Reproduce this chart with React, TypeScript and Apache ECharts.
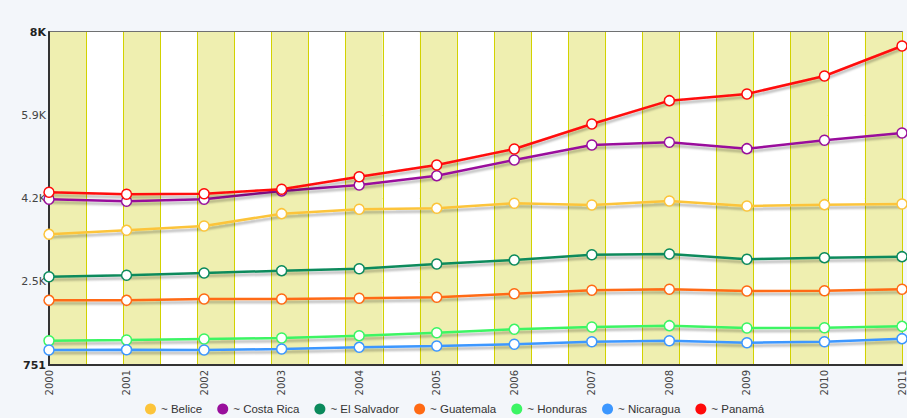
import React, { useEffect, useRef } from "react";
import * as echarts from "echarts";

const years = ["2000", "2001", "2002", "2003", "2004", "2005", "2006", "2007", "2008", "2009", "2010", "2011"];
const yTickLabels = ["751", "2.5K", "4.2K", "5.9K", "8K"];
const seriesNames = ["~ Belice", "~ Costa Rica", "~ El Salvador", "~ Guatemala", "~ Honduras", "~ Nicaragua", "~ Panamá"];
const seriesColors = ["#fcc43a", "#990f9c", "#0b8a5c", "#ff6a14", "#3cf564", "#3c97ff", "#ff0a0a"];

const belice = [3596, 3683, 3777, 4045, 4141, 4162, 4271, 4234, 4321, 4212, 4241, 4256];
const costaRica = [4358, 4315, 4358, 4540, 4670, 4872, 5214, 5540, 5599, 5460, 5643, 5802];
const elSalvador = [2673, 2704, 2754, 2804, 2847, 2950, 3037, 3152, 3167, 3052, 3087, 3109];
const guatemala = [2159, 2159, 2188, 2188, 2203, 2225, 2303, 2377, 2399, 2362, 2368, 2399];
const honduras = [1280, 1295, 1317, 1339, 1389, 1454, 1528, 1578, 1607, 1556, 1563, 1593];
const nicaragua = [1078, 1084, 1078, 1099, 1136, 1165, 1202, 1258, 1280, 1236, 1258, 1324];
const panama = [4511, 4467, 4480, 4576, 4850, 5105, 5453, 5998, 6505, 6651, 7043, 7696];

const allSeries = [belice, costaRica, elSalvador, guatemala, honduras, nicaragua, panama];
const yMin = 751;
const yMax = 8000;
const bandCount = 23;

export default function App() {
  const ref = useRef<HTMLDivElement>(null);
  useEffect(() => {
    if (!ref.current) return;
    const chart = echarts.init(ref.current, undefined, { renderer: "svg" });
    const bands = Array.from({ length: bandCount }, (_, i) => String(i));
    chart.setOption({
      animation: false,
      backgroundColor: "#f3f6fa",
      textStyle: { fontFamily: "DejaVu Sans, Verdana, sans-serif" },
      grid: {
        left: 49,
        right: 1,
        top: 32,
        bottom: 53,
        show: true,
        backgroundColor: "#ffffff",
        borderColor: "#444",
        borderWidth: 1.5,
      },
      legend: {
        top: 403,
        left: 145,
        padding: 0,
        icon: "circle",
        itemWidth: 11,
        itemHeight: 11,
        itemGap: 15,
        textStyle: { fontSize: 11.5, color: "#333", fontFamily: "Liberation Sans, Arial, sans-serif" },
        data: seriesNames.map((n, i) => ({
          name: n,
          itemStyle: { color: seriesColors[i], borderWidth: 0 },
        })),
      },
      xAxis: [
        {
          type: "category",
          data: years,
          boundaryGap: false,
          axisLine: { show: true, lineStyle: { color: "#333", width: 2 } },
          axisTick: { show: false },
          axisLabel: { rotate: 90, fontSize: 10, color: "#444", margin: 5, interval: 0 },
          splitLine: { show: false },
          z: 5,
        },
        {
          type: "category",
          data: bands,
          boundaryGap: true,
          position: "bottom",
          axisLine: { show: false },
          axisTick: { show: false },
          axisLabel: { show: false, interval: 0 },
          splitLine: { show: true, interval: 0, lineStyle: { color: "#d2d200", width: 1 } },
          splitArea: { show: true, interval: 0, areaStyle: { color: ["#efefb0", "#ffffff"] } },
        },
      ],
      yAxis: [
        {
          type: "value",
          min: yMin,
          max: yMax,
          axisLine: { show: true, lineStyle: { color: "#333", width: 2 } },
          axisTick: { show: false },
          axisLabel: { show: false },
          splitLine: { show: false },
          z: 5,
        },
        {
          type: "value",
          min: 0,
          max: yTickLabels.length - 1,
          interval: 1,
          position: "left",
          axisLine: { show: false },
          axisTick: { show: false },
          axisLabel: {
            margin: 3,
            fontSize: 11,
            color: "#444",
            formatter: (v: number) => {
              const i = Math.round(v);
              const t = yTickLabels[i];
              return i === 0 || i === yTickLabels.length - 1 ? `{b|${t}}` : t;
            },
            rich: { b: { fontWeight: "bold", fontSize: 11, color: "#222" } },
          },
          splitLine: { show: true, lineStyle: { color: "#d2d200", width: 1 } },
        },
      ],
      series: allSeries.map((d, i) => ({
        name: seriesNames[i],
        type: "line",
        xAxisIndex: 0,
        yAxisIndex: 0,
        data: d,
        symbol: "circle",
        symbolSize: 10,
        showAllSymbol: true,
        z: 10 + i,
        lineStyle: {
          color: seriesColors[i],
          width: 2.5,
          shadowColor: "rgba(0,0,0,0.28)",
          shadowOffsetY: 3,
          shadowBlur: 2,
        },
        itemStyle: { color: "#ffffff", borderColor: seriesColors[i], borderWidth: 1.5 },
        emphasis: { disabled: true },
      })),
    });
    return () => chart.dispose();
  }, []);
  return <div ref={ref} style={{ position: "absolute", left: 0, top: 0, width: 907, height: 418 }} />;
}
